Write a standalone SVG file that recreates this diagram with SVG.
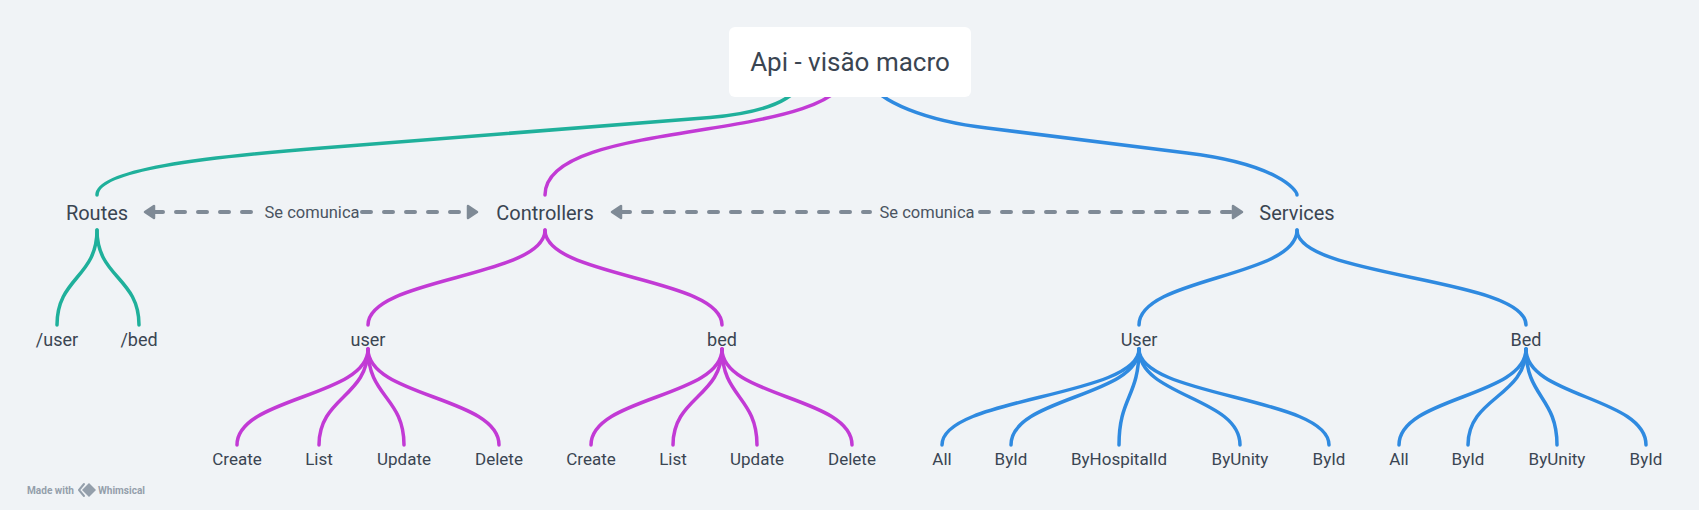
<svg xmlns="http://www.w3.org/2000/svg" width="1699" height="510" viewBox="0 0 1699 510">
<style>
.bg{fill:#f0f3f6}
.t{font-family:Roboto,"Liberation Sans",sans-serif;fill:#3a4552;text-anchor:middle}
.root{font-size:26px}
.l1{font-size:20px}
.l2{font-size:18px}
.l3{font-size:17px}
.lbl{font-family:Roboto,"Liberation Sans",sans-serif;font-size:16.5px;fill:#4a5461;text-anchor:middle}
.c{fill:none;stroke-width:3.5;stroke-linecap:round;stroke-linejoin:round}
.teal{stroke:#1fb09b}
.purple{stroke:#c23ad5}
.blue{stroke:#2f8ae0}
.dash{fill:none;stroke:#7f8a96;stroke-width:4;stroke-linecap:round;stroke-dasharray:9 13}
.wm{font-family:Roboto,"Liberation Sans",sans-serif;font-size:10px;font-weight:bold;fill:#949fab}
</style>
<defs>
<marker id="ah" viewBox="-2 -2 14 16" refX="0" refY="6" markerWidth="14" markerHeight="16" markerUnits="userSpaceOnUse" orient="auto-start-reverse" overflow="visible">
<path d="M0,0 L9,6 L0,12 Z" fill="#7f8a96" stroke="#7f8a96" stroke-width="2.5" stroke-linejoin="round"/>
</marker>
</defs>
<rect class="bg" x="0" y="0" width="1699" height="510"/>

<g id="connectors">
<path class="c teal" d="M800,85 C790,102 760,113 710,117.5 L322,148 C202,157.4 97,170 97,195"/>
<path class="c purple" d="M850,66 C850,146 545,115 545,195"/>
<path class="c blue" d="M868,80 C878,102 927,121 987,128 L1187,153 C1277,164 1297,190 1297,195"/>

<path class="c teal" d="M97,230 C97,277.5 57,277.5 57,325"/>
<path class="c teal" d="M97,230 C97,277.5 139,277.5 139,325"/>

<path class="c purple" d="M545,230 C545,277.5 368,277.5 368,325"/>
<path class="c purple" d="M545,230 C545,277.5 722,277.5 722,325"/>

<path class="c blue" d="M1297,230 C1297,277.5 1139,277.5 1139,325"/>
<path class="c blue" d="M1297,230 C1297,277.5 1526,277.5 1526,325"/>

<path class="c purple" d="M368,349 C368,397 237,397 237,445"/>
<path class="c purple" d="M368,349 C368,397 319,397 319,445"/>
<path class="c purple" d="M368,349 C368,397 404,397 404,445"/>
<path class="c purple" d="M368,349 C368,397 499,397 499,445"/>

<path class="c purple" d="M722,349 C722,397 591,397 591,445"/>
<path class="c purple" d="M722,349 C722,397 673,397 673,445"/>
<path class="c purple" d="M722,349 C722,397 757,397 757,445"/>
<path class="c purple" d="M722,349 C722,397 852,397 852,445"/>

<path class="c blue" d="M1139,349 C1139,397 942,397 942,445"/>
<path class="c blue" d="M1139,349 C1139,397 1011,397 1011,445"/>
<path class="c blue" d="M1139,349 C1139,397 1119,397 1119,445"/>
<path class="c blue" d="M1139,349 C1139,397 1240,397 1240,445"/>
<path class="c blue" d="M1139,349 C1139,397 1329,397 1329,445"/>

<path class="c blue" d="M1526,349 C1526,397 1399,397 1399,445"/>
<path class="c blue" d="M1526,349 C1526,397 1468,397 1468,445"/>
<path class="c blue" d="M1526,349 C1526,397 1557,397 1557,445"/>
<path class="c blue" d="M1526,349 C1526,397 1646,397 1646,445"/>

<path class="dash" d="M154,212 L254,212" marker-start="url(#ah)"/>
<path class="dash" d="M362,212 L468,212" marker-end="url(#ah)"/>
<text class="lbl" x="312" y="218">Se comunica</text>
<path class="dash" d="M621,212 L870,212" marker-start="url(#ah)"/>
<path class="dash" d="M980,212 L1233,212" marker-end="url(#ah)"/>
<text class="lbl" x="927" y="218">Se comunica</text>
</g>

<g id="root"><rect x="729" y="27" width="242" height="70" rx="6" fill="#ffffff"/><text class="t root" x="850" y="71">Api - visão macro</text></g>

<g id="routes"><text class="t l1" x="97" y="220">Routes</text></g>
<g id="controllers"><text class="t l1" x="545" y="220">Controllers</text></g>
<g id="services"><text class="t l1" x="1297" y="220">Services</text></g>

<g id="route-user"><text class="t l2" x="57" y="346">/user</text></g>
<g id="route-bed"><text class="t l2" x="139" y="346">/bed</text></g>
<g id="ctrl-user"><text class="t l2" x="368" y="346">user</text></g>
<g id="ctrl-bed"><text class="t l2" x="722" y="346">bed</text></g>
<g id="svc-user"><text class="t l2" x="1139" y="346">User</text></g>
<g id="svc-bed"><text class="t l2" x="1526" y="346">Bed</text></g>

<g id="cu-create"><text class="t l3" x="237" y="465">Create</text></g>
<g id="cu-list"><text class="t l3" x="319" y="465">List</text></g>
<g id="cu-update"><text class="t l3" x="404" y="465">Update</text></g>
<g id="cu-delete"><text class="t l3" x="499" y="465">Delete</text></g>

<g id="cb-create"><text class="t l3" x="591" y="465">Create</text></g>
<g id="cb-list"><text class="t l3" x="673" y="465">List</text></g>
<g id="cb-update"><text class="t l3" x="757" y="465">Update</text></g>
<g id="cb-delete"><text class="t l3" x="852" y="465">Delete</text></g>

<g id="su-all"><text class="t l3" x="942" y="465">All</text></g>
<g id="su-byid"><text class="t l3" x="1011" y="465">ById</text></g>
<g id="su-byhospitalid"><text class="t l3" x="1119" y="465">ByHospitalId</text></g>
<g id="su-byunity"><text class="t l3" x="1240" y="465">ByUnity</text></g>
<g id="su-byid2"><text class="t l3" x="1329" y="465">ById</text></g>

<g id="sb-all"><text class="t l3" x="1399" y="465">All</text></g>
<g id="sb-byid"><text class="t l3" x="1468" y="465">ById</text></g>
<g id="sb-byunity"><text class="t l3" x="1557" y="465">ByUnity</text></g>
<g id="sb-byid2"><text class="t l3" x="1646" y="465">ById</text></g>

<g id="watermark">
<text class="wm" x="27" y="494" textLength="47" lengthAdjust="spacingAndGlyphs">Made with</text>
<path d="M84,484 L79,490 L84,496" fill="none" stroke="#949fab" stroke-width="2" stroke-linejoin="round" stroke-linecap="round"/>
<path d="M89,483 L96,490 L89,497 L82,490 Z" fill="#949fab"/>
<text class="wm" x="98" y="494" textLength="47" lengthAdjust="spacingAndGlyphs">Whimsical</text>
</g>
</svg>
